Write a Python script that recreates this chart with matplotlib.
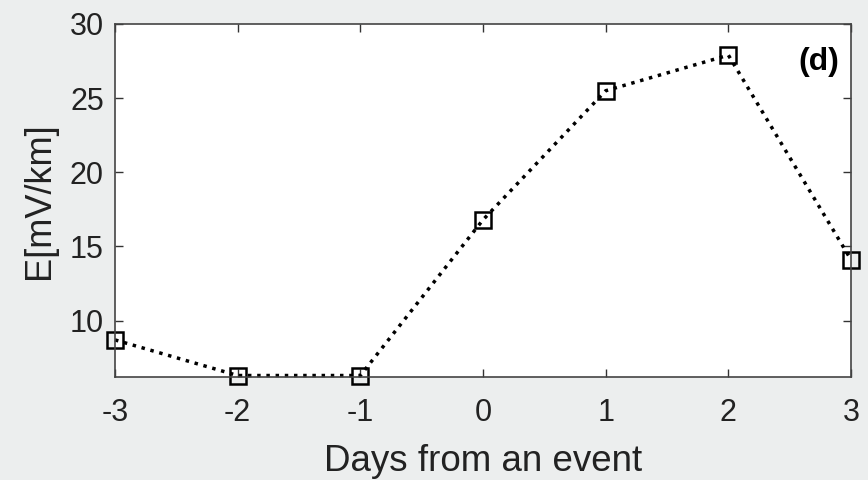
import matplotlib.pyplot as plt
import numpy as np

plt.rcParams['font.family'] = ['Liberation Sans', 'DejaVu Sans']
plt.rcParams['axes.unicode_minus'] = False

days = [-3, -2, -1, 0, 1, 2, 3]
efield = [8.7, 6.3, 6.3, 16.8, 25.5, 27.9, 14.1]
yticks = [10, 15, 20, 25, 30]

fig = plt.figure(figsize=(8.68, 4.8), dpi=100, facecolor='#eceeee')
ax = fig.add_axes([0.1325, 0.2146, 0.848, 0.7354])
ax.set_facecolor('white')

ax.plot(days, efield, color='black', linestyle=':', linewidth=2.5,
        marker='s', markersize=11, markerfacecolor='none',
        markeredgecolor='black', markeredgewidth=1.8, clip_on=False)

ax.set_xlim(-3, 3)
ax.set_ylim(6.2, 30)
ax.set_xticks(days)
ax.set_yticks(yticks)
ax.tick_params(direction='in', top=True, right=True, length=6, width=1,
               color='#333333', labelsize=22, labelcolor='#222222')
ax.tick_params(axis='x', pad=15)
ax.tick_params(axis='y', pad=8)
for s in ax.spines.values():
    s.set_color('#444444')
    s.set_linewidth(1.2)

ax.set_xlabel('Days from an event', fontsize=26.5, labelpad=12, color='#222222')
ax.set_ylabel('E[mV/km]', fontsize=26, color='#222222')
ax.yaxis.set_label_coords(-0.079, 0.5)
ax.text(0.984, 0.892, '(d)', transform=ax.transAxes, ha='right', va='center',
        fontsize=23, fontweight='bold')

fig.savefig('out.png', dpi=100, facecolor=fig.get_facecolor())
